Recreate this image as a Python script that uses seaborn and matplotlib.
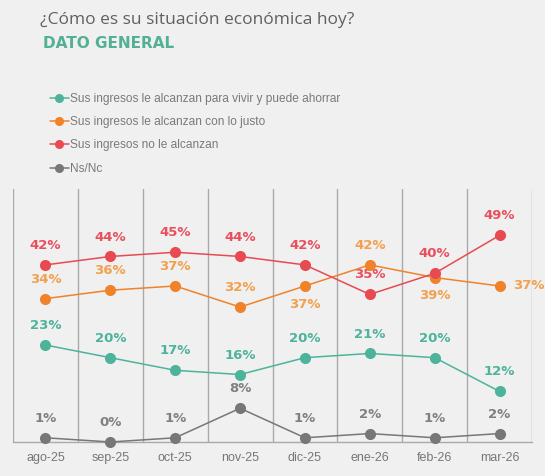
import pandas as pd
import numpy as np
import matplotlib
matplotlib.use("Agg")
import matplotlib.pyplot as plt
import seaborn as sns

# datos
meses = ["ago-25", "sep-25", "oct-25", "nov-25", "dic-25", "ene-26", "feb-26", "mar-26"]
ahorrar = [23, 20, 17, 16, 20, 21, 20, 12]
justo = [34, 36, 37, 32, 37, 42, 39, 37]
no_alcanza = [42, 44, 45, 44, 42, 35, 40, 49]
ns_nc = [1, 0, 1, 8, 1, 2, 1, 2]
series_nombres = [
    "Sus ingresos le alcanzan para vivir y puede ahorrar",
    "Sus ingresos le alcanzan con lo justo",
    "Sus ingresos no le alcanzan",
    "Ns/Nc",
]

colores = ["#4DB39A", "#F0822A", "#E84A52", "#777777"]
colores_txt = ["#4DB39A", "#F2A04E", "#E8505E", "#808080"]

valores = [ahorrar, justo, no_alcanza, ns_nc]
df = pd.DataFrame({
    "mes": np.tile(np.arange(len(meses)), len(series_nombres)),
    "valor": np.concatenate(valores),
    "serie": np.repeat(series_nombres, len(meses)),
})

sns.set_theme(style="white")
plt.rcParams["font.family"] = ["DejaVu Sans"]

fig = plt.figure(figsize=(5.45, 4.76), dpi=100, facecolor="#F0F0F0")
ax = fig.add_axes([13 / 545, 34 / 476, 519 / 545, 253 / 476])
ax.set_facecolor("#F0F0F0")

for i, nombre in enumerate(series_nombres):
    sns.lineplot(data=df[df["serie"] == nombre], x="mes", y="valor", ax=ax,
                 color=colores[i], marker="o", markersize=8, markeredgewidth=0,
                 linewidth=1.1, label=nombre, clip_on=False, zorder=3 + i)

# etiquetas: por defecto encima; algunas abajo o a la derecha
abajo = {(1, 4), (1, 6)}
derecha = {(1, 7)}
for i, vals in enumerate(valores):
    for j, v in enumerate(vals):
        if (i, j) in derecha:
            ax.annotate(f"{v}%", (j, v), xytext=(10, 0), textcoords="offset points",
                        ha="left", va="center", color=colores_txt[i],
                        fontsize=9.5, fontweight="bold")
        elif (i, j) in abajo:
            ax.annotate(f"{v}%", (j, v), xytext=(0, -13), textcoords="offset points",
                        ha="center", va="center", color=colores_txt[i],
                        fontsize=9.5, fontweight="bold")
        else:
            ax.annotate(f"{v}%", (j, v), xytext=(0, 14), textcoords="offset points",
                        ha="center", va="center", color=colores_txt[i],
                        fontsize=9.5, fontweight="bold")

ax.set_xlim(-0.5, len(meses) - 0.5)
ax.set_ylim(0, 60)
for xv in np.arange(-0.5, len(meses), 1):
    ax.axvline(xv, color="#AAAAAA", linewidth=1, zorder=1)
ax.set_xticks(range(len(meses)))
ax.set_xticklabels(meses, color="#777777", fontsize=9, family="Liberation Sans")
ax.tick_params(axis="x", length=0, pad=7)
ax.set_yticks([])
ax.set_xlabel("")
ax.set_ylabel("")
for s in ["top", "left", "right"]:
    ax.spines[s].set_visible(False)
ax.spines["bottom"].set_color("#AAAAAA")
ax.spines["bottom"].set_linewidth(1)

leg = ax.legend(loc="upper left", bbox_to_anchor=(45 / 545, 1 - 88 / 476),
                bbox_transform=fig.transFigure, frameon=False,
                prop={"family": "Liberation Sans", "size": 8.6},
                handlelength=1.6, handletextpad=0.1, labelspacing=0.95,
                borderaxespad=0)
for t in leg.get_texts():
    t.set_color("#7A7A7A")
for h in leg.get_lines():
    h.set_markersize(6.5)

fig.text(40 / 545, 1 - 20 / 476, "¿Cómo es su situación económica hoy?",
         fontsize=12.5, color="#606060", family="Open Sans", va="center")
fig.text(43 / 545, 1 - 44 / 476, "DATO GENERAL", fontsize=11,
         fontweight="heavy", color="#52B095", va="center")

fig.savefig("out.png", dpi=100, facecolor=fig.get_facecolor())
